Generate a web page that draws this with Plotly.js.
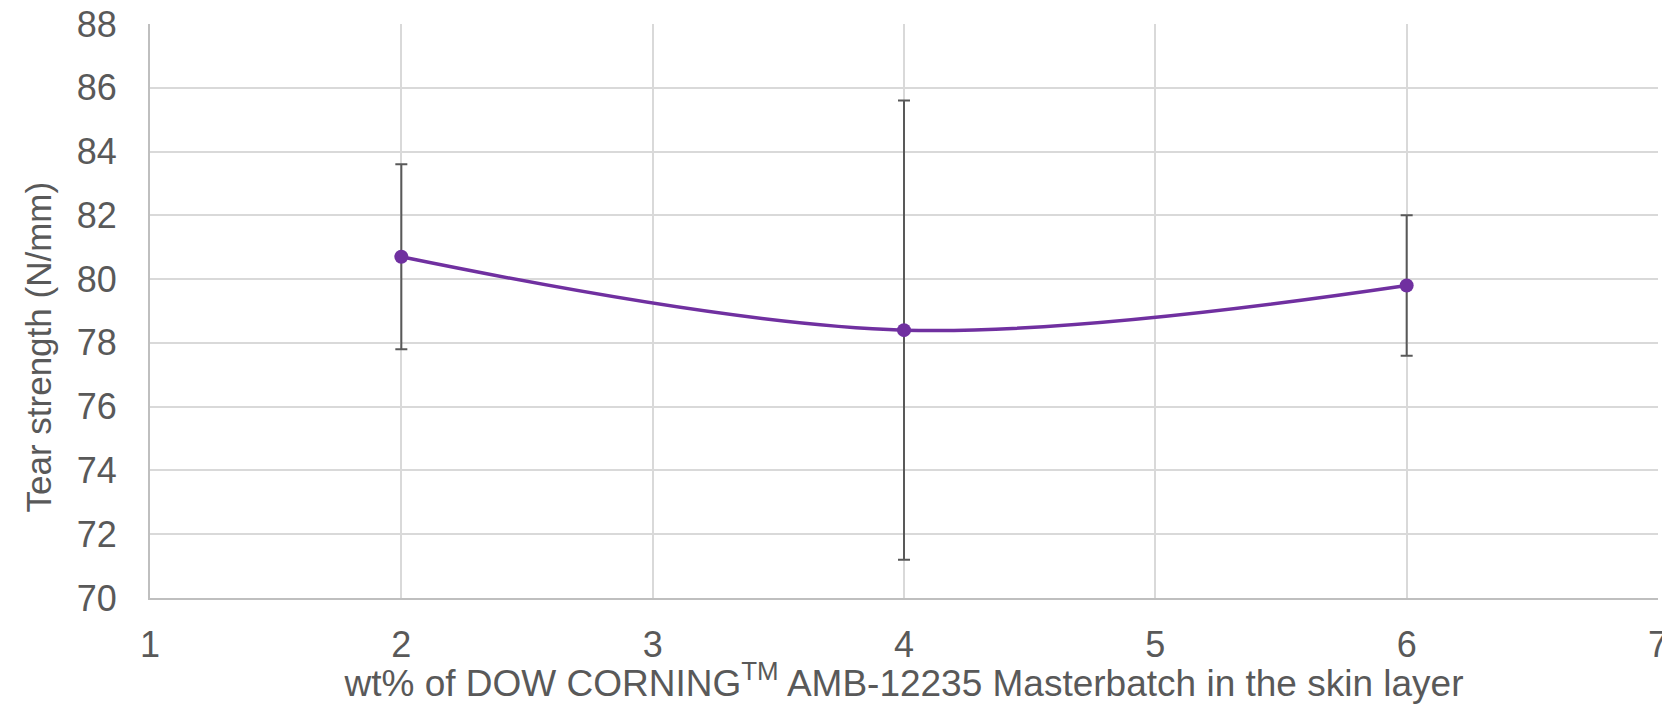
<!DOCTYPE html>
<html>
<head>
<meta charset="utf-8">
<script src="https://cdn.plot.ly/plotly-3.0.1.min.js"></script>
<style>html,body{margin:0;padding:0;background:#fff;}#chart{width:1662px;height:704px;}</style>
</head>
<body>
<div id="chart"></div>
<script>
const xValues = [2, 4, 6];
const tearStrength = [80.7, 78.4, 79.8];
const errorPlusMinus = [2.9, 7.2, 2.2];
const xTickVals = [1, 2, 3, 4, 5, 6, 7];
const yTickVals = [70, 72, 74, 76, 78, 80, 82, 84, 86, 88];
const xTitle = 'wt% of DOW CORNING<sup>TM</sup> AMB-12235 Masterbatch in the skin layer';
const yTitle = 'Tear strength (N/mm)';

const trace = {
  x: xValues,
  y: tearStrength,
  type: 'scatter',
  mode: 'lines+markers',
  line: {color: '#7030A0', width: 3.5, shape: 'spline', smoothing: 1},
  marker: {color: '#7030A0', size: 14, symbol: 'circle'},
  error_y: {type: 'data', array: errorPlusMinus, visible: true, color: '#595959', thickness: 2, width: 6},
  hoverinfo: 'x+y'
};

const fontFamily = 'Liberation Sans, Arial, sans-serif';
const textColor = '#595959';
const layout = {
  width: 1662, height: 704,
  margin: {l: 150, r: 4, t: 24, b: 106},
  paper_bgcolor: '#fff', plot_bgcolor: '#fff',
  font: {family: fontFamily, color: textColor, size: 36},
  showlegend: false,
  xaxis: {
    range: [1, 7], tickvals: xTickVals, ticktext: xTickVals.map(String),
    showgrid: true, gridcolor: '#d9d9d9', gridwidth: 2,
    showline: true, linecolor: '#bfbfbf', linewidth: 2,
    zeroline: false, ticks: '', ticklabelstandoff: 14,
    ticklabeloverflow: 'allow',
    tickfont: {size: 36, color: textColor},
    title: {text: xTitle, font: {size: 37, color: textColor}, standoff: 0},
    automargin: false
  },
  yaxis: {
    range: [70, 88], tickvals: yTickVals,
    showgrid: true, gridcolor: '#d9d9d9', gridwidth: 2,
    showline: true, linecolor: '#bfbfbf', linewidth: 2,
    zeroline: false, ticks: '', ticklabelstandoff: 24,
    ticklabeloverflow: 'allow',
    tickfont: {size: 36, color: textColor},
    automargin: false
  },
  annotations: [{
    text: yTitle, xref: 'paper', yref: 'paper',
    x: (38 - 150) / 1508, y: (598 - 347.5) / 574,
    xanchor: 'center', yanchor: 'middle', textangle: -90, showarrow: false,
    font: {size: 35, color: textColor, family: fontFamily}
  }]
};

Plotly.newPlot('chart', [trace], layout, {displayModeBar: false, staticPlot: true});
</script>
</body>
</html>
